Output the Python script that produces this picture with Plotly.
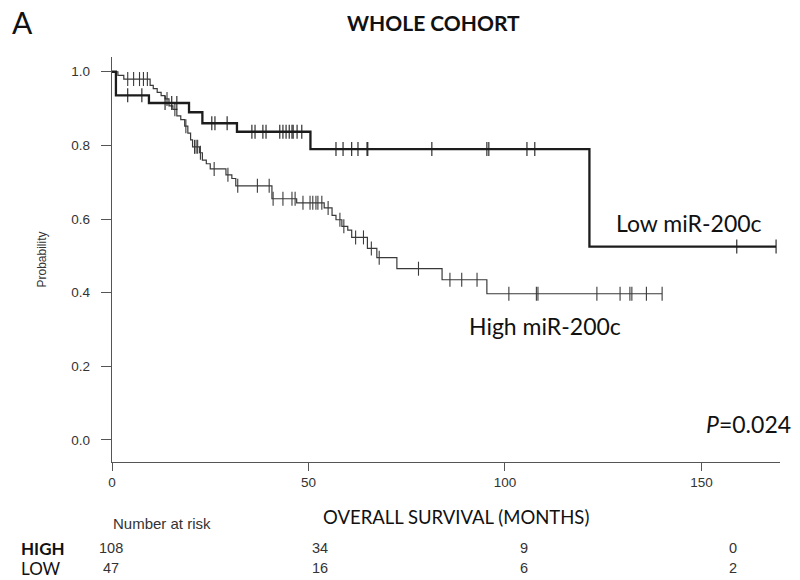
import numpy as np
import plotly.graph_objects as go

# ---- data ----
# High miR-200c: step times (months) and survival after each step
high_t = [0, 1.5, 3, 9.7, 10.5, 11.5, 12.5, 13.5, 14.5, 15.5, 16.5, 17.5, 18.5, 19.3, 20,
          20.5, 22.3, 23, 24, 25, 29, 30.5, 31.5, 40.7, 47, 54, 56, 57, 58.5, 60, 61, 65,
          67.4, 72.5, 84, 95.4]
high_s = [1.0, 0.99, 0.98, 0.963, 0.954, 0.944, 0.935, 0.926, 0.907, 0.898, 0.88, 0.87,
          0.852, 0.833, 0.815, 0.796, 0.78, 0.76, 0.75, 0.736, 0.72, 0.71, 0.69, 0.655,
          0.644, 0.63, 0.61, 0.598, 0.58, 0.57, 0.55, 0.52, 0.495, 0.465, 0.435, 0.397]
high_end = 140
high_cens = [4, 5.5, 7, 8, 9, 14, 16, 18.8, 21, 21.4, 21.8, 22.5, 26, 29.5, 32, 37, 40, 41,
             43.5, 45.8, 46.6, 48.6, 50.4, 51.1, 51.9, 52.4, 53.4, 55, 58, 59, 62, 64, 66,
             68, 78, 86, 89, 92.9, 101, 108, 108.4, 123.4, 129.3, 131.8, 132.3, 136, 140]

# Low miR-200c
low_t = [0, 1, 9.4, 19.6, 23, 31.8, 50.5, 121.5]
low_s = [1.0, 0.936, 0.915, 0.89, 0.86, 0.837, 0.79, 0.525]
low_end = 169
low_cens = [4, 7.6, 13.5, 15.2, 16.5, 25.4, 26.2, 29.3, 35.6, 36.4, 38.4, 39.2, 42.7, 43.5,
            44.3, 45.1, 45.8, 46.1, 47.1, 48.3, 57, 58.8, 61, 62.6, 64.9, 65.1, 81.4, 95.4,
            95.9, 105.6, 107.6, 159, 169]

x_ticks = [0, 50, 100, 150]
y_ticks = [0.0, 0.2, 0.4, 0.6, 0.8, 1.0]
risk_high = ["108", "34", "9", "0"]
risk_low = ["47", "16", "6", "2"]
p_value = "0.024"

# ---- layout helpers (pixel -> paper) ----
W, H = 800, 580
ML, MR, MT, MB = 112, 20, 57, 118
PW, PH = W - ML - MR, H - MT - MB


def px(x):
    return (x - ML) / PW


def py(y):
    return (H - MB - y) / PH


def step_value(ts, ss, c):
    i = np.searchsorted(np.array(ts), c, side="right") - 1
    return ss[i]


fig = go.Figure()


def add_curve(ts, ss, end, cens, color, width, msize):
    fig.add_trace(go.Scatter(
        x=list(ts) + [end], y=list(ss) + [ss[-1]], mode="lines",
        line=dict(color=color, width=width, shape="hv"), hoverinfo="skip",
        showlegend=False))
    fig.add_trace(go.Scatter(
        x=cens, y=[step_value(ts, ss, c) for c in cens], mode="markers",
        marker=dict(symbol="line-ns", size=msize,
                    line=dict(color=color, width=1.1)),
        showlegend=False))


add_curve(high_t, high_s, high_end, high_cens, "#3a3a3a", 1.2, 10)
add_curve(low_t, low_s, low_end, low_cens, "#1c1c1c", 2.3, 10)

axis_font = dict(family="Liberation Sans, Arial", size=13.5, color="#333")
fig.update_layout(
    width=W, height=H, margin=dict(l=ML, r=MR, t=MT, b=MB),
    paper_bgcolor="white", plot_bgcolor="white",
    xaxis=dict(range=[0, 170], tickvals=x_ticks, showline=True, linecolor="#555",
               linewidth=1.3, ticks="outside", ticklen=8, tickcolor="#555",
               tickfont=axis_font, showgrid=False, zeroline=False),
    yaxis=dict(range=[-0.06, 1.04], tickvals=y_ticks,
               ticktext=[f"{v:.1f}" for v in y_ticks], showline=True,
               linecolor="#555", linewidth=1.3, ticks="outside", ticklen=10,
               tickcolor="#555", tickfont=axis_font, showgrid=False, zeroline=False,
               ticklabelstandoff=8,
               title=dict(text="Probability", standoff=22,
                          font=dict(family="Liberation Sans, Arial", size=12,
                                    color="#333"))),
)

cal = "Lato, Open Sans, sans-serif"


def ann(text, x, y, size, family=cal, xanchor="center", color="#111"):
    fig.add_annotation(text=text, x=px(x), y=py(y), xref="paper", yref="paper",
                       xanchor=xanchor, yanchor="middle", showarrow=False,
                       font=dict(family=family, size=size, color=color))


ann("A", 22, 22, 30, xanchor="center")
ann("<b>WHOLE COHORT</b>", 433, 22, 21)
ann("OVERALL SURVIVAL (MONTHS)", 456, 517, 18.5)
ann("Low miR-200c", 614, 223, 23, xanchor="left")
ann("High miR-200c", 467, 326, 23, xanchor="left")
ann(f"<i>P</i>={p_value}", 704, 424, 23, xanchor="left")
ann("Number at risk", 111, 523, 15, family="Liberation Sans, Arial",
    xanchor="left", color="#333")
ann("<b>HIGH</b>", 19, 548, 17, xanchor="left")
ann("LOW", 19, 568, 17, xanchor="left")
risk_x = [111, 320, 524, 733]
for xx, h, l in zip(risk_x, risk_high, risk_low):
    ann(h, xx, 548, 14.5, family="Liberation Sans, Arial", color="#333")
    ann(l, xx, 568, 14.5, family="Liberation Sans, Arial", color="#333")

fig.write_html("out.html", config={"displayModeBar": False},
               post_script="document.body.style.margin='0';"
                           "document.body.style.overflow='hidden';")
